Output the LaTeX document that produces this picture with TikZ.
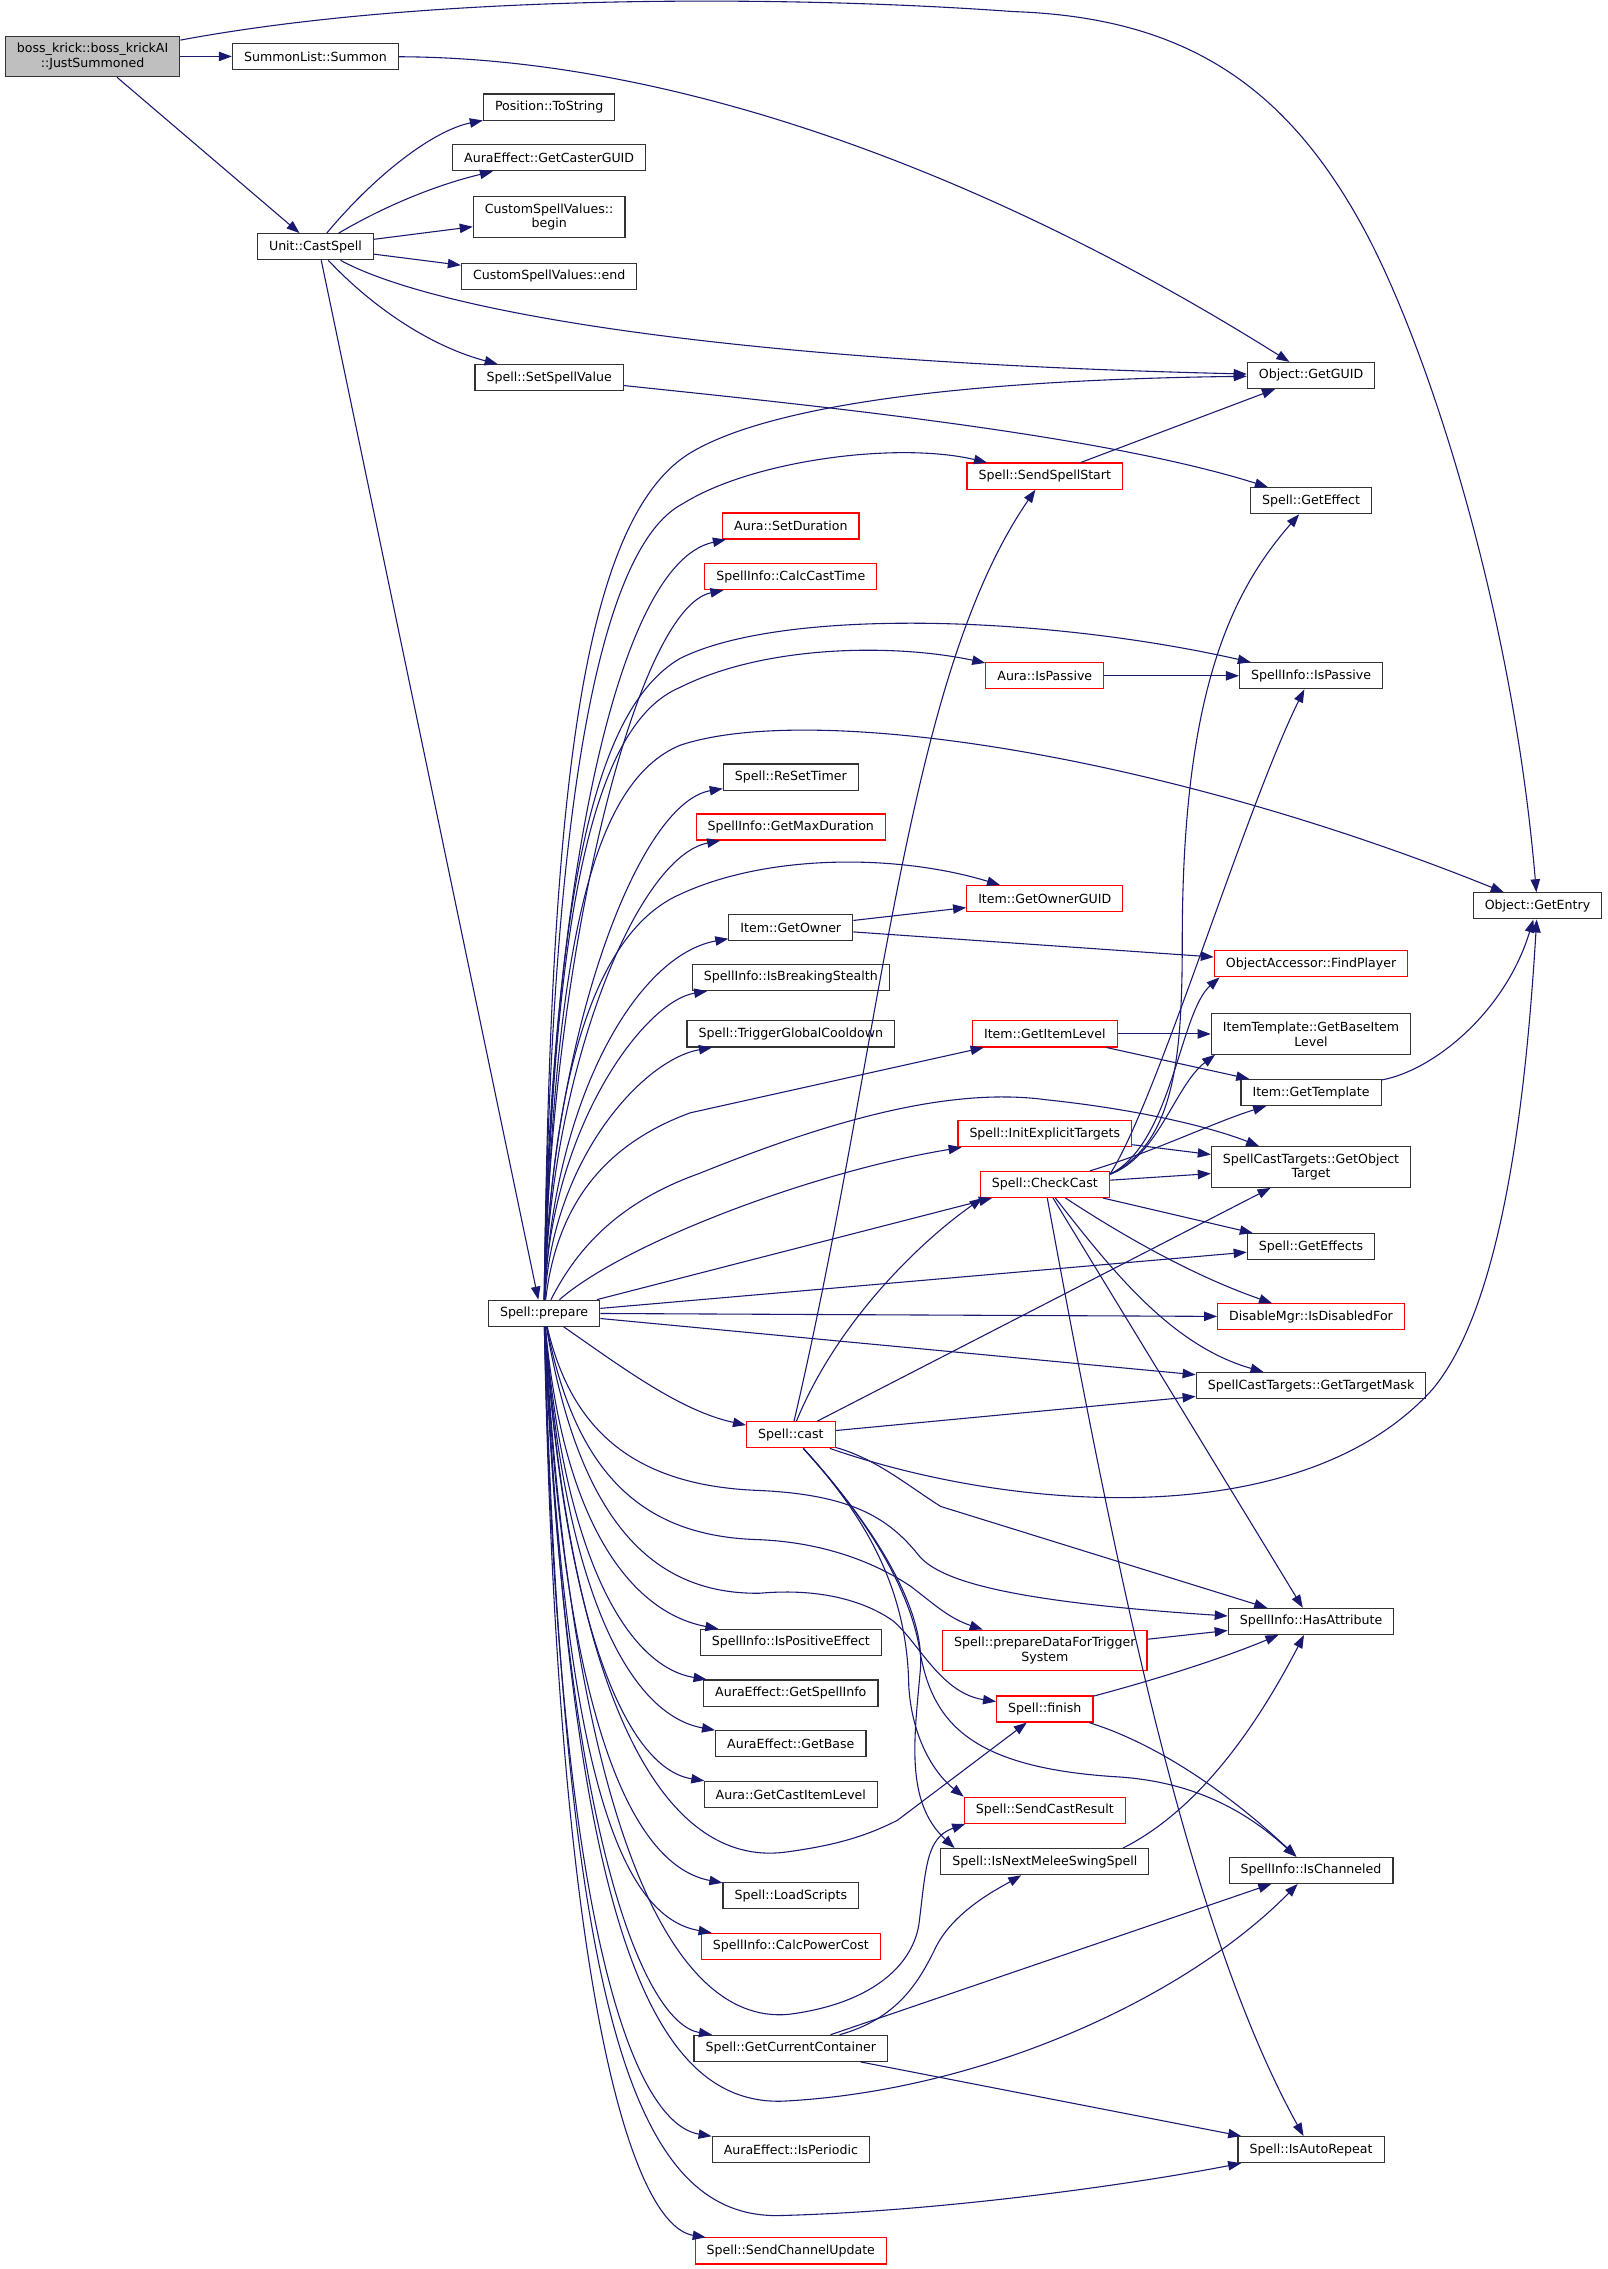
\documentclass[tikz,border=0pt]{standalone}
\usepackage{fontspec}
\setmainfont{DejaVu Sans}
\usetikzlibrary{arrows.meta}
\definecolor{edgeblue}{RGB}{25,25,112}
\definecolor{nodegray}{RGB}{191,191,191}
\begin{document}
\begin{tikzpicture}[x=1pt,y=-1pt,
  fn/.style={draw=black!80, line width=0.8pt, fill=white, inner xsep=8pt, inner ysep=0pt,
     minimum height=18pt, align=center, font=\fontsize{8.7}{10.2}\selectfont},
  fr/.style={fn, draw=red},
  two/.style={minimum height=28pt},
  e/.style={draw=edgeblue, line width=0.75pt, -{Triangle[length=9pt,width=6.5pt]}}]
\useasboundingbox (0,0) rectangle (1110.6,1568);
% ---- nodes ----
\node[fn,two,fill=nodegray] (boss) at (64,39) {boss\_krick::boss\_krickAI\\::JustSummoned};
\node[fn] (summon) at (218,39) {SummonList::Summon};
\node[fn] (castspell) at (218,170.5) {Unit::CastSpell};
\node[fn] (tostring) at (379.5,74) {Position::ToString};
\node[fn] (castguid) at (379.5,109) {AuraEffect::GetCasterGUID};
\node[fn,two] (csvbegin) at (379.5,150) {CustomSpellValues::\\begin};
\node[fn] (csvend) at (379.5,191) {CustomSpellValues::end};
\node[fn] (setspellvalue) at (379.5,261) {Spell::SetSpellValue};
\node[fn] (prepare) at (376,907.5) {Spell::prepare};
% column 4
\node[fr] (setduration) at (546.5,363.5) {Aura::SetDuration};
\node[fr] (calccasttime) at (546.5,398.5) {SpellInfo::CalcCastTime};
\node[fn] (resettimer) at (546.5,537) {Spell::ReSetTimer};
\node[fr] (getmaxduration) at (546.5,571.5) {SpellInfo::GetMaxDuration};
\node[fn] (getowner) at (546.5,641) {Item::GetOwner};
\node[fn] (isbreaking) at (546.5,675.5) {SpellInfo::IsBreakingStealth};
\node[fn] (triggergcd) at (546.5,714.5) {Spell::TriggerGlobalCooldown};
\node[fr] (cast) at (546.5,991.5) {Spell::cast};
\node[fn] (ispositive) at (546.5,1135) {SpellInfo::IsPositiveEffect};
\node[fn] (getspellinfo) at (546.5,1170) {AuraEffect::GetSpellInfo};
\node[fn] (getbase) at (546.5,1205) {AuraEffect::GetBase};
\node[fn] (getcastitemlevel) at (546.5,1240) {Aura::GetCastItemLevel};
\node[fn] (loadscripts) at (546.5,1310) {Spell::LoadScripts};
\node[fr] (calcpowercost) at (546.5,1345) {SpellInfo::CalcPowerCost};
\node[fn] (getcurrentcontainer) at (546.5,1415.5) {Spell::GetCurrentContainer};
\node[fn] (isperiodic) at (546.5,1485.5) {AuraEffect::IsPeriodic};
\node[fr] (sendchannelupdate) at (546.5,1555.5) {Spell::SendChannelUpdate};
% column 5
\node[fr] (sendspellstart) at (722,329) {Spell::SendSpellStart};
\node[fr] (aurapassive) at (722,467) {Aura::IsPassive};
\node[fr] (getownerguid) at (722,621) {Item::GetOwnerGUID};
\node[fr] (getitemlevel) at (722,714.5) {Item::GetItemLevel};
\node[fr] (initexplicit) at (722,783.5) {Spell::InitExplicitTargets};
\node[fr] (checkcast) at (722,818.5) {Spell::CheckCast};
\node[fr,two] (preparedata) at (722,1140.5) {Spell::prepareDataForTrigger\\System};
\node[fr] (finish) at (722,1181) {Spell::finish};
\node[fr] (sendcastresult) at (722,1251) {Spell::SendCastResult};
\node[fn] (isnextmelee) at (722,1286.5) {Spell::IsNextMeleeSwingSpell};
% column 6
\node[fn] (getguid) at (906,259.5) {Object::GetGUID};
\node[fn] (geteffect) at (906,346) {Spell::GetEffect};
\node[fn] (infopassive) at (906,467) {SpellInfo::IsPassive};
\node[fr] (findplayer) at (906,666) {ObjectAccessor::FindPlayer};
\node[fn,two] (baseitemlevel) at (906,714.5) {ItemTemplate::GetBaseItem\\Level};
\node[fn] (gettemplate) at (906,755) {Item::GetTemplate};
\node[fn,two] (getobjecttarget) at (906,806.5) {SpellCastTargets::GetObject\\Target};
\node[fn] (geteffects) at (906,861.5) {Spell::GetEffects};
\node[fr] (isdisabled) at (906,910) {DisableMgr::IsDisabledFor};
\node[fn] (gettargetmask) at (906,957.5) {SpellCastTargets::GetTargetMask};
\node[fn] (hasattribute) at (906,1120.5) {SpellInfo::HasAttribute};
\node[fn] (ischanneled) at (906,1292.5) {SpellInfo::IsChanneled};
\node[fn] (isautorepeat) at (906,1485.5) {Spell::IsAutoRepeat};
% column 7
\node[fn] (getentry) at (1062.5,626) {Object::GetEntry};
% ---- edges ----
\draw[e] (boss) .. controls (300,-5) and (550,-3) .. (700,8) .. controls (820,12) and (890,60) .. (944,161) .. controls (987,242) and (1045,420) .. (getentry);
\draw[e] (boss) -- (summon);
\draw[e] (boss) -- (castspell);
\draw[e] (summon) .. controls (480,40) and (700,130) .. (getguid);
\draw[e] (castspell) .. controls (260,120) and (300,90) .. (tostring);
\draw[e] (castspell) .. controls (270,140) and (305,127) .. (castguid);
\draw[e] (castspell) -- (csvbegin);
\draw[e] (castspell) -- (csvend);
\draw[e] (castspell) .. controls (300,215) and (500,250) .. (getguid);
\draw[e] (castspell) .. controls (260,215) and (300,240) .. (setspellvalue);
\draw[e] ([xshift=4pt]castspell.south) -- ([xshift=-4pt]prepare.north);
\draw[e] (setspellvalue) .. controls (560,280) and (760,300) .. (geteffect);
\draw[e] (sendspellstart) -- (getguid);
\draw[e] (aurapassive) -- (infopassive);
\draw[e] (getowner) -- (getownerguid);
\draw[e] (getowner) -- (findplayer);
\draw[e] (getitemlevel) -- (baseitemlevel);
\draw[e] (getitemlevel) -- (gettemplate);
\draw[e] (gettemplate) .. controls (990,740) and (1040,700) .. (getentry);
\draw[e] (initexplicit) -- (getobjecttarget);
% CheckCast
\draw[e] (checkcast) -- (getobjecttarget);
\draw[e] (checkcast) .. controls (800,795) and (840,775) .. (gettemplate);
\draw[e] ([yshift=7pt]checkcast.east) .. controls (800,800) and (812,750) .. ([xshift=3pt]baseitemlevel.south west);
\draw[e] ([yshift=7pt]checkcast.east) .. controls (810,790) and (815,700) .. ([xshift=4pt]findplayer.south west);
\draw[e] ([yshift=7pt]checkcast.east) .. controls (812,790) and (817,730) .. (817,650) .. controls (817,480) and (850,410) .. (geteffect);
\draw[e] ([yshift=7pt]checkcast.east) .. controls (800,760) and (860,560) .. (infopassive);
\draw[e] (checkcast) -- (geteffects);
\draw[e] (checkcast) .. controls (770,850) and (820,880) .. (isdisabled);
\draw[e] (checkcast) .. controls (770,880) and (810,930) .. (gettargetmask);
\draw[e] (checkcast) -- (hasattribute);
\draw[e] (checkcast) .. controls (770,1080) and (820,1330) .. (isautorepeat);
% cast
\draw[e] (cast) .. controls (610,720) and (625,470) .. (sendspellstart);
\draw[e] (cast) .. controls (580,910) and (640,855) .. ([xshift=2pt]checkcast.south west);
\draw[e] (cast) -- (getobjecttarget);
\draw[e] (cast) -- (gettargetmask);
\draw[e] (cast) .. controls (700,1045) and (900,1060) .. (990,960) .. controls (1040,900) and (1055,750) .. (getentry);
\draw[e] (cast) .. controls (605,1008) and (625,1025) .. (650,1041) -- (hasattribute);
\draw[e] (cast) .. controls (600,1050) and (627,1100) .. (628,1165) .. controls (630,1200) and (645,1225) .. (sendcastresult.north west);
\draw[e] (cast) .. controls (600,1050) and (640,1110) .. (636,1154) .. controls (632,1200) and (625,1245) .. ([xshift=10pt]isnextmelee.north west);
\draw[e] (cast) .. controls (600,1050) and (630,1100) .. (636,1143) .. controls (645,1190) and (670,1222) .. (774,1228) .. controls (830,1232) and (865,1255) .. (ischanneled);
% others
\draw[e] (preparedata) -- (hasattribute);
\draw[e] (finish) .. controls (790,1163) and (840,1148) .. (hasattribute);
\draw[e] (finish) .. controls (800,1205) and (850,1240) .. (ischanneled);
\draw[e] ([xshift=54pt]isnextmelee.north) .. controls (830,1250) and (870,1190) .. (hasattribute);
\draw[e] (getcurrentcontainer) .. controls (620,1395) and (635,1370) .. (647,1345) .. controls (660,1320) and (690,1305) .. (isnextmelee);
\draw[e] (getcurrentcontainer) -- (ischanneled);
\draw[e] (getcurrentcontainer) -- (isautorepeat);
% prepare upward
\draw[e] (prepare) .. controls (380,560) and (400,360) .. (477,313) .. controls (540,275) and (700,262) .. (getguid);
\draw[e] (prepare) .. controls (380,580) and (410,380) .. (472,348) .. controls (520,318) and (620,305) .. (sendspellstart);
\draw[e] (prepare) .. controls (378,650) and (420,390) .. (setduration);
\draw[e] (prepare) .. controls (380,660) and (440,420) .. (calccasttime);
\draw[e] (prepare) .. controls (382,620) and (410,490) .. (470,455) .. controls (540,420) and (720,425) .. (infopassive);
\draw[e] (prepare) .. controls (382,630) and (410,500) .. (470,475) .. controls (530,445) and (620,445) .. (aurapassive);
\draw[e] (prepare) .. controls (383,650) and (410,540) .. (470,515) .. controls (560,485) and (800,520) .. (getentry);
\draw[e] (prepare) .. controls (380,720) and (440,555) .. (resettimer);
\draw[e] (prepare) .. controls (380,740) and (440,592) .. (getmaxduration);
\draw[e] (prepare) .. controls (382,720) and (420,640) .. (470,618) .. controls (530,590) and (620,590) .. (getownerguid);
\draw[e] (prepare) .. controls (382,760) and (440,660) .. (getowner);
\draw[e] (prepare) .. controls (380,780) and (445,692) .. (isbreaking);
\draw[e] (prepare) .. controls (382,800) and (445,732) .. (triggergcd);
\draw[e] (prepare) .. controls (385,830) and (420,790) .. (477,769) -- (getitemlevel);
\draw[e] (prepare) .. controls (400,860) and (430,830) .. (483,811) .. controls (560,780) and (650,750) .. (723,760) .. controls (790,767) and (840,780) .. (getobjecttarget);
\draw[e] (prepare) .. controls (430,860) and (560,810) .. (initexplicit);
\draw[e] (prepare) -- (checkcast);
\draw[e] (prepare) -- (geteffects);
\draw[e] (prepare) -- (isdisabled);
\draw[e] (prepare) -- (gettargetmask);
\draw[e] (prepare) .. controls (430,945) and (470,975) .. (cast);
% prepare downward
\draw[e] (prepare) .. controls (395,990) and (440,1027) .. (525,1030) .. controls (590,1033) and (615,1050) .. (635,1075) .. controls (650,1093) and (700,1107) .. (hasattribute);
\draw[e] (prepare) .. controls (398,1020) and (445,1062) .. (525,1064) .. controls (570,1066) and (605,1080) .. (629,1096) .. controls (645,1108) and (655,1118) .. (preparedata);
\draw[e] (prepare) .. controls (400,1050) and (450,1102) .. (525,1101) .. controls (570,1097) and (600,1108) .. (617,1120) .. controls (635,1135) and (650,1170) .. (finish);
\draw[e] (prepare) .. controls (390,1060) and (440,1115) .. (ispositive);
\draw[e] (prepare) .. controls (390,1080) and (435,1152) .. (getspellinfo);
\draw[e] (prepare) .. controls (390,1100) and (435,1185) .. (getbase);
\draw[e] (prepare) .. controls (390,1120) and (432,1222) .. (getcastitemlevel);
\draw[e] (prepare) .. controls (395,1180) and (460,1290) .. (542,1280) .. controls (580,1275) and (600,1268) .. (620,1258) -- (finish);
\draw[e] (prepare) .. controls (390,1200) and (440,1290) .. (loadscripts);
\draw[e] (prepare) .. controls (390,1230) and (430,1325) .. (calcpowercost);
\draw[e] (prepare) .. controls (395,1250) and (460,1400) .. (545,1392) .. controls (600,1385) and (630,1360) .. (635,1330) .. controls (640,1290) and (640,1270) .. ([xshift=1pt]sendcastresult.south west);
\draw[e] (prepare) .. controls (390,1270) and (445,1398) .. (getcurrentcontainer);
\draw[e] (prepare) .. controls (395,1330) and (450,1455) .. (541,1452) .. controls (680,1445) and (820,1380) .. (ischanneled);
\draw[e] (prepare) .. controls (385,1330) and (437,1467) .. (isperiodic);
\draw[e] (prepare) .. controls (390,1400) and (440,1535) .. (541,1531) .. controls (650,1528) and (780,1510) .. (isautorepeat);
\draw[e] (prepare) .. controls (385,1380) and (437,1538) .. (sendchannelupdate);
\end{tikzpicture}
\end{document}
